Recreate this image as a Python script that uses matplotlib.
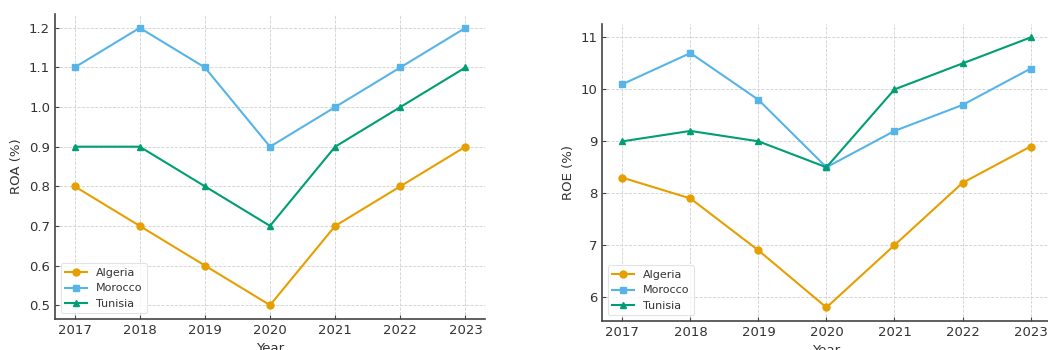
import matplotlib
matplotlib.use("Agg")
import matplotlib.pyplot as plt

# Bank profitability by country, 2017-2023
years = [2017, 2018, 2019, 2020, 2021, 2022, 2023]
countries = ["Algeria", "Morocco", "Tunisia"]

roa_algeria = [0.8, 0.7, 0.6, 0.5, 0.7, 0.8, 0.9]
roa_morocco = [1.1, 1.2, 1.1, 0.9, 1.0, 1.1, 1.2]
roa_tunisia = [0.9, 0.9, 0.8, 0.7, 0.9, 1.0, 1.1]

roe_algeria = [8.3, 7.9, 6.9, 5.8, 7.0, 8.2, 8.9]
roe_morocco = [10.1, 10.7, 9.8, 8.5, 9.2, 9.7, 10.4]
roe_tunisia = [9.0, 9.2, 9.0, 8.5, 10.0, 10.5, 11.0]

colors = ["#E69F00", "#56B4E9", "#009E73"]
markers = ["o", "s", "^"]

plt.rcParams.update({
    "font.family": "DejaVu Sans",
    "text.color": "#333333",
    "axes.labelcolor": "#333333",
    "xtick.color": "#333333",
    "ytick.color": "#333333",
})

fig = plt.figure(figsize=(10.48, 3.5), dpi=100)
ax1 = fig.add_axes([0.0525, 0.0886, 0.4103, 0.8714])
ax2 = fig.add_axes([0.5744, 0.0829, 0.4284, 0.8486])


def draw_panel(ax, series, ylabel):
    for name, vals, c, m in zip(countries, series, colors, markers):
        ax.plot(years, vals, color=c, marker=m, markersize=5, linewidth=1.5, label=name)
    ax.set_xticks(years)
    ax.set_xlabel("Year", fontsize=9.5)
    ax.set_ylabel(ylabel, fontsize=9.5)
    ax.grid(True, linestyle="--", linewidth=0.6, color="#d0d0d0")
    ax.set_axisbelow(True)
    for side in ["top", "right"]:
        ax.spines[side].set_visible(False)
    for side in ["left", "bottom"]:
        ax.spines[side].set_color("#444444")
        ax.spines[side].set_linewidth(1.2)
    ax.tick_params(direction="in", length=3, width=0.8, labelsize=9.5, color="#444444")
    leg = ax.legend(loc="lower left", fontsize=8, frameon=True, fancybox=True)
    leg.get_frame().set_edgecolor("#dddddd")
    leg.get_frame().set_linewidth(0.8)


draw_panel(ax1, [roa_algeria, roa_morocco, roa_tunisia], "ROA (%)")
draw_panel(ax2, [roe_algeria, roe_morocco, roe_tunisia], "ROE (%)")

fig.savefig("out.png", dpi=100)
